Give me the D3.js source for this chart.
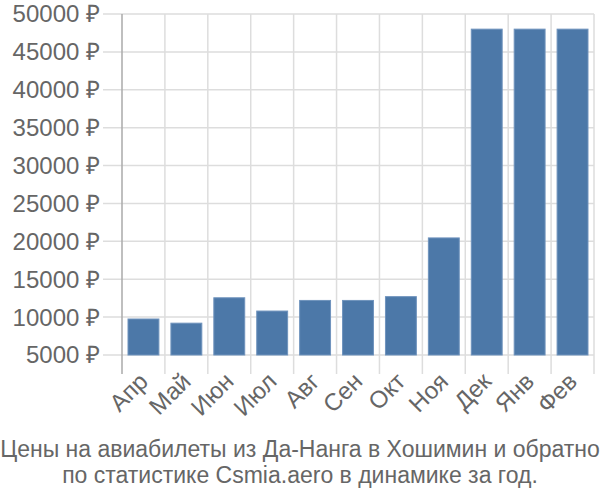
<!DOCTYPE html>
<html><head><meta charset="utf-8">
<script src="https://cdn.jsdelivr.net/npm/d3@7"></script>
<style>body{margin:0;background:#fff}</style>
</head><body>
<svg id="c" width="600" height="500"></svg>
<script>
const categories = ["Апр","Май","Июн","Июл","Авг","Сен","Окт","Ноя","Дек","Янв","Фев"];
const prices = [9750, 9200, 12550, 10800, 12200, 12200, 12700, 20450, 48000, 48000, 48000];
const yTicks = [5000,10000,15000,20000,25000,30000,35000,40000,45000,50000];
const titleLines = ["Цены на авиабилеты из Да-Нанга в Хошимин и обратно","по статистике Csmia.aero в динамике за год."];

(function(){
const svg = d3.select("#c");
const left = 122, right = 594, plotTop = 14, base = 355, axisBottom = 374;
const x = d3.scaleBand().domain(categories).range([left, right]).paddingInner(0.28).paddingOuter(0.14);
const xb = d3.scaleBand().domain(categories).range([left, right]);
const y = d3.scaleLinear().domain([5000, 50000]).range([base, plotTop]);
const font = "Liberation Sans, Arial, sans-serif";

svg.append("g").selectAll("line").data(yTicks).join("line")
  .attr("x1", 103).attr("x2", right).attr("y1", d=>y(d)).attr("y2", d=>y(d))
  .attr("stroke", "#ddd").attr("stroke-width", 1.5);
svg.append("g").selectAll("line").data(categories).join("line")
  .attr("x1", (d,i)=> left + (i+1)*xb.step()).attr("x2", (d,i)=> left + (i+1)*xb.step())
  .attr("y1", plotTop).attr("y2", axisBottom)
  .attr("stroke", "#ddd").attr("stroke-width", 1.5);
svg.append("line").attr("x1", left).attr("x2", left).attr("y1", plotTop).attr("y2", axisBottom)
  .attr("stroke", "#aaa").attr("stroke-width", 1.5);

svg.append("g").selectAll("text").data(yTicks).join("text")
  .attr("x", 100).attr("y", d=>y(d)).attr("dy", "0.35em")
  .attr("text-anchor", "end").attr("fill", "#666")
  .style("font-family", font).style("font-size", "24px")
  .text(d => d + " ₽");

svg.append("g").selectAll("rect").data(prices).join("rect")
  .attr("x", (d,i)=> x(categories[i])).attr("width", x.bandwidth())
  .attr("y", d=> y(d)).attr("height", d=> base - y(d))
  .attr("fill", "#4c78a8").attr("stroke", "#6f93bd").attr("stroke-width", 1);

svg.append("g").selectAll("text").data(categories).join("text")
  .attr("transform", d => `translate(${xb(d)+xb.bandwidth()/2},${axisBottom+3}) rotate(-45)`)
  .attr("text-anchor", "end").attr("dy", "0.35em").attr("fill", "#666")
  .style("font-family", font).style("font-size", "24px")
  .text(d=>d);

svg.append("g").selectAll("text").data(titleLines).join("text")
  .attr("x", 300).attr("y", (d,i)=> 457 + i*26).attr("text-anchor", "middle").attr("fill", "#666")
  .style("font-family", font).style("font-size", "23px")
  .text(d=>d);
})();
</script>
</body></html>
